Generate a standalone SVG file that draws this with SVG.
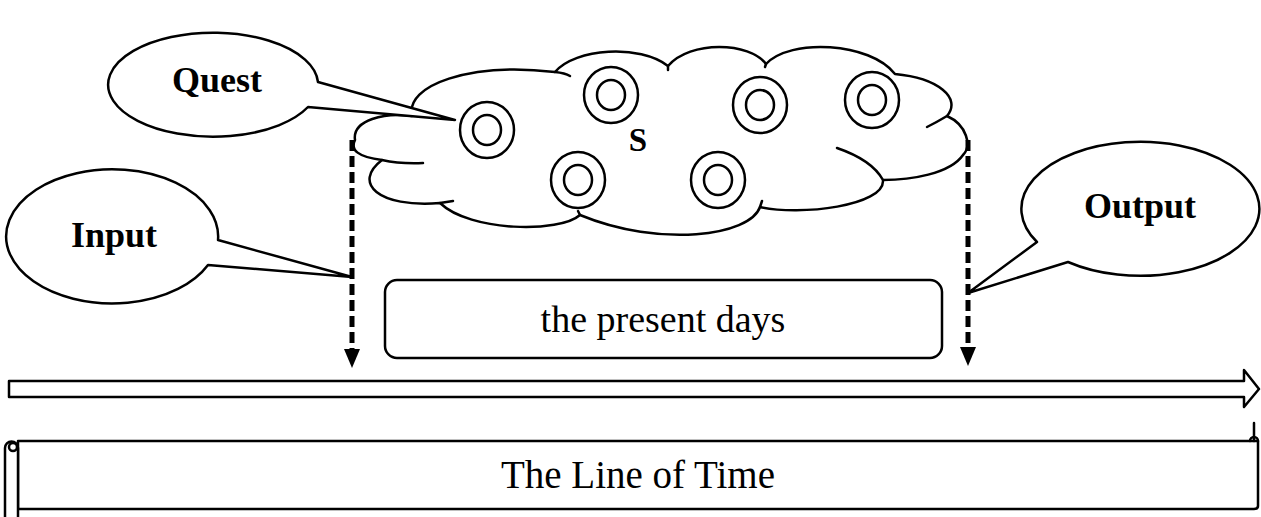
<svg xmlns="http://www.w3.org/2000/svg" width="1261" height="517" viewBox="0 0 1261 517">
<defs>
<style>
.ln{fill:none;stroke:#000;stroke-width:2.5;stroke-linejoin:round;stroke-linecap:round}
.sh{fill:#fff;stroke:#000;stroke-width:2.5;stroke-linejoin:round}
.ring{fill:none;stroke:#000;stroke-width:2.5}
.bold{font-weight:bold;fill:#000;text-anchor:middle}
.reg{fill:#000;text-anchor:middle}
.dash{fill:none;stroke:#000;stroke-width:5;stroke-dasharray:11 5}
</style>
</defs>
<rect width="1261" height="517" fill="#fff"/>

<g id="cloud">
<path class="sh" d="M355,140 C352,120 385,112 412,116 C405,85 470,62 555,72 C575,48 640,44 668,66 C690,40 750,42 766,64 C790,38 870,42 895,74 C938,78 962,98 947,116 C967,125 972,146 963,155 C950,174 910,180 883,180 C885,206 800,216 760,207 C750,236 660,248 580,215 C560,233 470,232 440,203 C378,208 352,183 382,160 C358,157 350,150 355,140 Z"/>
<path class="ln" d="M382,160 Q400,164 423,163"/>
<path class="ln" d="M440,203 L453,201"/>
<path class="ln" d="M555,72 Q565,73 570,76"/>
<path class="ln" d="M668,66 L668,70"/>
<path class="ln" d="M766,64 L765,67"/>
<path class="ln" d="M947,116 Q937,122 927,127"/>
<path class="ln" d="M837,148 Q872,160 883,180"/>
<path class="ln" d="M760,207 L762,201"/>
<path class="ln" d="M580,215 L578,211"/>
<text class="bold" x="638" y="151" font-size="33" font-family="'Liberation Serif', 'Times New Roman', 'DejaVu Serif', serif">S</text>
</g>

<g id="nodes-rings">
<g id="ring1"><ellipse class="ring" cx="487" cy="130" rx="27" ry="28"/><ellipse class="ring" cx="487" cy="130" rx="14" ry="15"/></g>
<g id="ring2"><ellipse class="ring" cx="611" cy="95" rx="27" ry="28"/><ellipse class="ring" cx="611" cy="95" rx="14" ry="15"/></g>
<g id="ring3"><ellipse class="ring" cx="578" cy="180" rx="27" ry="28"/><ellipse class="ring" cx="578" cy="180" rx="14" ry="15"/></g>
<g id="ring4"><ellipse class="ring" cx="760" cy="105" rx="27" ry="28"/><ellipse class="ring" cx="760" cy="105" rx="14" ry="15"/></g>
<g id="ring5"><ellipse class="ring" cx="872" cy="100" rx="27" ry="28"/><ellipse class="ring" cx="872" cy="100" rx="14" ry="15"/></g>
<g id="ring6"><ellipse class="ring" cx="718" cy="180" rx="27" ry="28"/><ellipse class="ring" cx="718" cy="180" rx="14" ry="15"/></g>
</g>

<g id="connectors">
<line class="dash" x1="352" y1="140" x2="352" y2="352"/>
<path d="M344,349 L360,349 L352,368 Z" fill="#000"/>
<line class="dash" x1="968" y1="140" x2="968" y2="350"/>
<path d="M960,347 L976,347 L968,366 Z" fill="#000"/>
</g>

<g id="quest">
<path class="sh" d="M318,82 A105,52 0 1 0 308,107 L455,120 Z"/>
<text class="bold" x="217" y="92" font-size="36" font-family="'Liberation Serif', 'Times New Roman', 'DejaVu Serif', serif">Quest</text>
</g>

<g id="input">
<path class="sh" d="M218,240 A106,67 0 1 0 208,265 L352,277 Z"/>
<text class="bold" x="114" y="247" font-size="36" font-family="'Liberation Serif', 'Times New Roman', 'DejaVu Serif', serif">Input</text>
</g>

<g id="output">
<path class="sh" d="M1037,242 A119,67 0 1 1 1068,262 L968,293 Z"/>
<text class="bold" x="1140" y="218" font-size="36" font-family="'Liberation Serif', 'Times New Roman', 'DejaVu Serif', serif">Output</text>
</g>

<g id="present">
<rect class="sh" x="385" y="280" width="557" height="78" rx="12" ry="12"/>
<text class="reg" x="663" y="332" font-size="38" font-family="'Liberation Serif', 'Times New Roman', 'DejaVu Serif', serif">the present days</text>
</g>

<g id="time-arrow">
<path class="sh" d="M9,381 L1244,381 L1244,370 L1259,389 L1244,407 L1244,397 L9,397 Z"/>
</g>

<g id="scroll">
<path class="sh" d="M18,441 L1258,441 L1258,506 Q1258,509 1254,509 L18,509 Z"/>
<path class="sh" d="M5,517 L5,448 A6.5,6.5 0 0 1 18,448 L18,517"/>
<circle class="ln" cx="13" cy="447" r="4"/>
<path class="ln" d="M1250,441 A4,4 0 0 1 1258,441"/>
<line class="ln" x1="1254" y1="423" x2="1254" y2="441"/>
<text class="reg" x="638" y="488" font-size="39" font-family="'Liberation Serif', 'Times New Roman', 'DejaVu Serif', serif">The Line of Time</text>
</g>
</svg>
